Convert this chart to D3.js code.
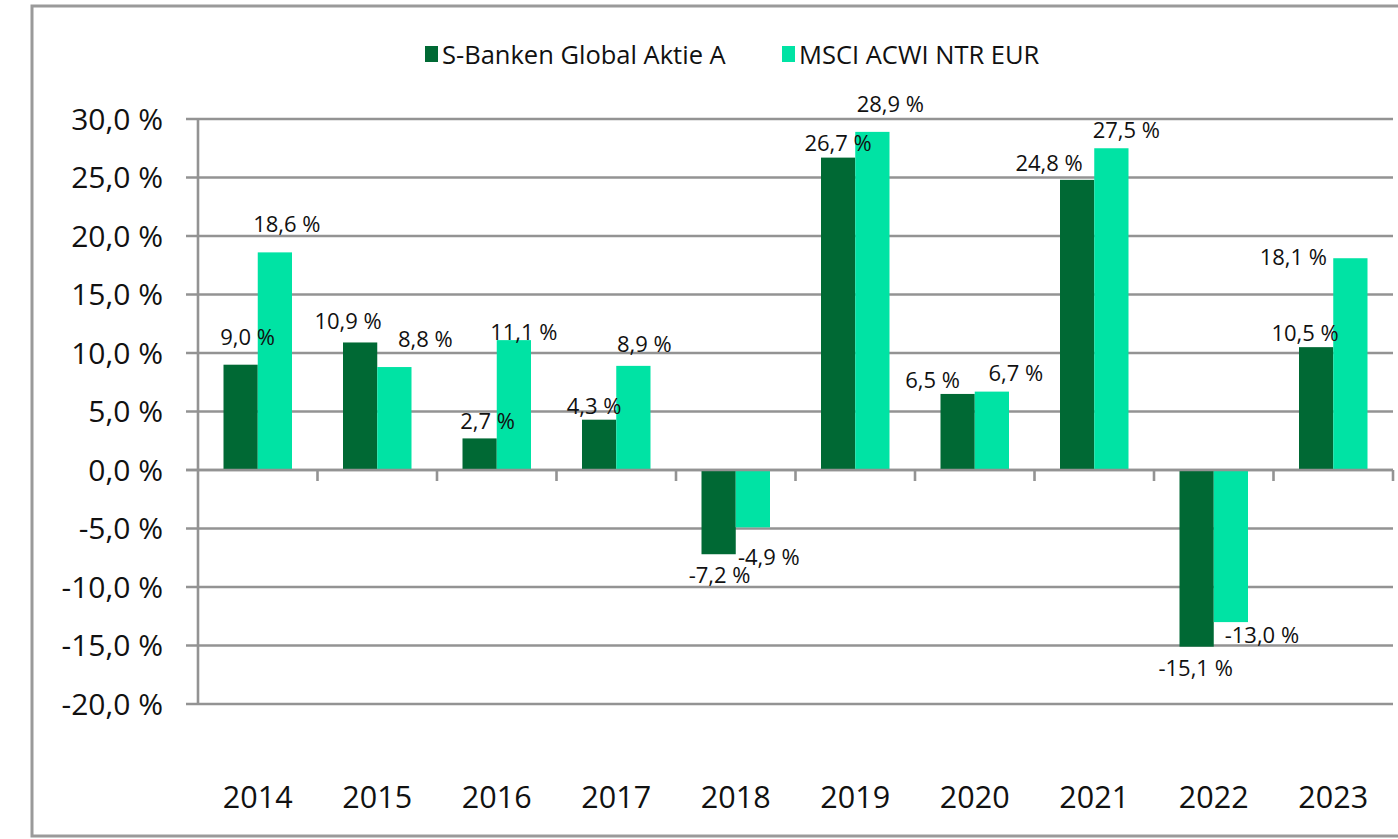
<!DOCTYPE html>
<html>
<head>
<meta charset="utf-8">
<script src="https://cdn.jsdelivr.net/npm/d3@7"></script>
<style>
  body { margin: 0; background: #fff; }
  svg { display: block; font-family: "Open Sans", "Noto Sans", sans-serif; }
</style>
</head>
<body>
<svg id="chart" width="1398" height="839"></svg>
<script>
// data
var years = ["2014", "2015", "2016", "2017", "2018", "2019", "2020", "2021", "2022", "2023"]
var seriesNames = ["S-Banken Global Aktie A", "MSCI ACWI NTR EUR"]
var fundValues = [9.0, 10.9, 2.7, 4.3, -7.2, 26.7, 6.5, 24.8, -15.1, 10.5]
var indexValues = [18.6, 8.8, 11.1, 8.9, -4.9, 28.9, 6.7, 27.5, -13.0, 18.1]
var yTicks = [30, 25, 20, 15, 10, 5, 0, -5, -10, -15, -20]

// label nudges (the original has hand-placed labels)
var fundLabelDx = [7, -12, 8, -5, 1, 0, -25, -28, -1, -11]
var fundLabelDy = [-28, -21, -17, -14, 21, -15, -14, -17, 21, -14]
var indexLabelDx = [12, 31, 10, 11, 16, 18, 24, 15, 31, -57]
var indexLabelDy = [-28, -28, -8, -22, 30, -28, -19, -18, 13, -1]

var colors = ["#006934", "#00E3A4"]
var gridColor = "#939393"

// plot box (note: "top" is taken by window.top, so prefixed names)
var plotLeft = 198, plotRight = 1393, plotTop = 119, plotBottom = 704

var svg = d3.select("#chart")

// outer frame
svg.append("rect")
    .attr("x", 32).attr("y", 6)
    .attr("width", 1400).attr("height", 830)
    .attr("fill", "none")
    .attr("stroke", "#9a9a9a")
    .attr("stroke-width", 3)

var x0 = d3.scaleBand()
    .domain(years)
    .range([plotLeft, plotRight])
    .padding(0)

var pad = 25.5
var x1 = d3.scaleBand()
    .domain([0, 1])
    .range([pad, x0.bandwidth() - pad])

var y = d3.scaleLinear()
    .domain([-20, 30])
    .range([plotBottom, plotTop])

var fmt = function (v) { return v.toFixed(1).replace(".", ",") + " %" }

// gridlines + y labels
svg.append("g").selectAll("line")
    .data(yTicks)
    .enter().append("line")
    .attr("x1", plotLeft - 12).attr("x2", plotRight)
    .attr("y1", function (d) { return y(d) })
    .attr("y2", function (d) { return y(d) })
    .attr("stroke", gridColor)
    .attr("stroke-width", 2.6)

svg.append("g").selectAll("text")
    .data(yTicks)
    .enter().append("text")
    .attr("x", 163)
    .attr("y", function (d) { return y(d) })
    .attr("dy", "0.36em")
    .attr("text-anchor", "end")
    .attr("font-size", 30)
    .attr("fill", "#111")
    .text(fmt)

// y axis line
svg.append("line")
    .attr("x1", plotLeft).attr("x2", plotLeft)
    .attr("y1", plotTop).attr("y2", plotBottom)
    .attr("stroke", gridColor)
    .attr("stroke-width", 2.6)

// bars
var rows = years.map(function (yr, i) {
    return {
        year: yr,
        vals: [
            { s: 0, v: fundValues[i], dx: fundLabelDx[i], dy: fundLabelDy[i] },
            { s: 1, v: indexValues[i], dx: indexLabelDx[i], dy: indexLabelDy[i] }
        ]
    }
})

var groups = svg.append("g").selectAll("g")
    .data(rows)
    .enter().append("g")
    .attr("transform", function (d) { return "translate(" + x0(d.year) + ",0)" })

groups.selectAll("rect")
    .data(function (d) { return d.vals })
    .enter().append("rect")
    .attr("x", function (d) { return x1(d.s) })
    .attr("width", x1.bandwidth())
    .attr("y", function (d) { return y(Math.max(0, d.v)) })
    .attr("height", function (d) { return Math.abs(y(d.v) - y(0)) })
    .attr("fill", function (d) { return colors[d.s] })

// zero line and category ticks on top of the bars
svg.append("line")
    .attr("x1", plotLeft - 12).attr("x2", plotRight)
    .attr("y1", y(0)).attr("y2", y(0))
    .attr("stroke", gridColor)
    .attr("stroke-width", 2.6)

svg.append("g").selectAll("line")
    .data(years.slice(1).map(function (d) { return x0(d) }).concat([plotRight]))
    .enter().append("line")
    .attr("x1", function (d) { return d }).attr("x2", function (d) { return d })
    .attr("y1", y(0)).attr("y2", y(0) + 11)
    .attr("stroke", gridColor)
    .attr("stroke-width", 2.6)

// data labels
groups.selectAll("text")
    .data(function (d) { return d.vals })
    .enter().append("text")
    .attr("x", function (d) { return x1(d.s) + x1.bandwidth() / 2 + d.dx })
    .attr("y", function (d) { return y(d.v) + d.dy })
    .attr("dy", "0.36em")
    .attr("text-anchor", "middle")
    .attr("font-size", 22)
    .attr("fill", "#111")
    .text(function (d) { return fmt(d.v) })

// year labels
svg.append("g").selectAll("text")
    .data(years)
    .enter().append("text")
    .attr("x", function (d) { return x0(d) + x0.bandwidth() / 2 })
    .attr("y", 808)
    .attr("text-anchor", "middle")
    .attr("font-size", 30.5)
    .attr("fill", "#111")
    .text(function (d) { return d })

// legend
var legend = svg.append("g")
var legendX = [425, 782]
seriesNames.forEach(function (name, i) {
    legend.append("rect")
        .attr("x", legendX[i]).attr("y", 46)
        .attr("width", 13).attr("height", 16)
        .attr("fill", colors[i])
    legend.append("text")
        .attr("x", legendX[i] + 17)
        .attr("y", 55)
        .attr("dy", "0.36em")
        .attr("font-size", 25.5)
        .attr("fill", "#111")
        .text(name)
})
</script>
</body>
</html>
